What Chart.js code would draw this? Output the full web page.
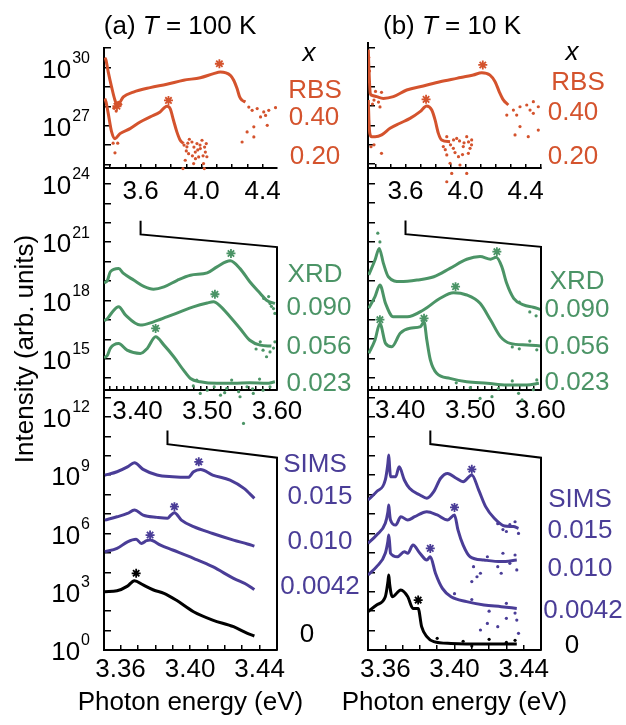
<!DOCTYPE html>
<html>
<head>
<meta charset="utf-8">
<script src="https://cdn.jsdelivr.net/npm/chart.js@4.4.1/dist/chart.umd.min.js"></script>
<style>
  html, body { margin: 0; padding: 0; background: #fff; }
  #wrap { position: relative; width: 626px; height: 725px; }
  #wrap canvas { position: absolute; left: 0; top: 0; }
</style>
</head>
<body>
<div id="wrap">
  <canvas id="cA" width="626" height="725"></canvas>
  <canvas id="cB" width="626" height="725"></canvas>
</div>
<script>
// punten: [foton-energie (eV), log10 intensiteit]

// (a) T = 100 K
const rbs100_040 = [[3.365,30.5],[3.373,30.37],[3.388,29.76],[3.410,28.99],[3.432,28.31],[3.447,28.05],[3.487,28.48],[3.553,28.73],[3.663,28.96],[3.772,29.13],[3.882,29.34],[3.992,29.47],[4.079,29.68],[4.123,29.76],[4.189,29.59],[4.211,29.34],[4.233,28.91],[4.250,28.48],[4.266,28.31],[4.288,28.22]];
const rbs100_040_dots = [[4.310,27.96],[4.332,27.79],[4.365,27.88],[4.408,27.71],[4.441,27.79],[4.485,27.93],[4.420,27.53],[4.431,27.02],[4.387,27.45],[4.343,26.94],[4.299,26.68],[4.266,26.16],[4.343,26.42],[3.44,27.75],[3.455,28.2],[3.425,27.9],[3.47,28.1]];
const rbs100_020 = [[3.365,28.4],[3.373,28.22],[3.388,27.62],[3.410,26.68],[3.432,26.33],[3.465,26.59],[3.531,26.85],[3.597,27.19],[3.663,27.45],[3.728,27.71],[3.772,28.0],[3.794,27.88],[3.816,27.28],[3.838,26.68],[3.860,26.25],[3.882,26.08]];
const rbs100_020_dots = [[3.904,25.91],[3.937,26.16],[3.970,26.08],[4.003,26.25],[4.031,26.08],[3.915,25.56],[3.959,25.64],[3.992,25.82],[4.025,25.64],[3.893,25.22],[3.981,25.39],[4.013,25.05],[3.878,24.79],[3.948,25.05],[4.018,24.79],[3.92,26.3],[3.95,25.9],[3.99,26.0],[4.02,25.9],[3.90,25.7],[3.96,25.3],[4.035,25.4],[3.885,26.0],[3.432,25.6],[3.42,26.1],[3.45,26.1],[3.91,26.1],[3.975,25.75],[4.01,25.45],[3.94,25.45]];
const rbs100_stars = [[4.117,30.19],[3.783,28.3],[3.445,28.0]];

const xrd100_090 = [[3.352,18.9],[3.357,19.04],[3.361,19.47],[3.373,19.64],[3.380,19.39],[3.395,19.04],[3.409,18.73],[3.423,18.58],[3.438,18.70],[3.457,19.04],[3.476,19.30],[3.500,19.42],[3.514,19.73],[3.533,20.04],[3.547,19.64],[3.561,18.96],[3.576,18.36],[3.585,18.01],[3.597,17.84]];
const xrd100_090_dots = [[3.581,18.10],[3.590,17.84],[3.595,17.58],[3.597,17.33],[3.588,18.2],[3.592,17.7]];
const xrd100_056 = [[3.352,16.95],[3.357,17.07],[3.364,17.41],[3.373,17.67],[3.383,17.24],[3.404,16.73],[3.423,16.90],[3.442,17.15],[3.461,17.41],[3.480,17.67],[3.500,17.87],[3.509,17.93],[3.519,17.70],[3.533,17.15],[3.547,16.56],[3.561,15.95],[3.576,15.70],[3.592,15.65]];
const xrd100_056_dots = [[3.580,15.44],[3.590,15.35],[3.585,15.10],[3.576,15.87],[3.597,15.87],[3.570,15.5],[3.595,15.55]];
const xrd100_023 = [[3.352,15.05],[3.357,15.18],[3.361,15.53],[3.373,15.78],[3.385,15.44],[3.404,15.27],[3.414,15.53],[3.426,16.13],[3.438,15.70],[3.452,15.10],[3.466,14.41],[3.476,13.98],[3.490,13.81],[3.514,13.73],[3.538,13.73],[3.561,13.76],[3.585,13.73],[3.597,13.81]];
const xrd100_023_dots = [[3.50,13.38],[3.528,13.47],[3.557,13.55],[3.580,13.38],[3.49,13.21],[3.519,13.12],[3.547,13.04],[3.566,13.21],[3.552,11.67],[3.48,13.6],[3.535,13.9],[3.575,13.95],[3.485,13.9],[3.51,13.55],[3.545,13.3],[3.59,13.55],[3.525,13.25],[3.565,13.45]];
const xrd100_stars = [[3.534,20.42],[3.511,18.32],[3.426,16.56]];

const sims100_015 = [[3.351,9.0],[3.358,9.18],[3.364,9.43],[3.368,9.64],[3.373,9.30],[3.381,9.01],[3.390,8.92],[3.399,8.89],[3.402,9.18],[3.406,9.30],[3.413,9.01],[3.423,8.75],[3.431,8.32],[3.437,7.81]];
const sims100_010 = [[3.351,6.69],[3.358,6.86],[3.364,7.03],[3.368,7.21],[3.373,6.95],[3.381,6.83],[3.387,6.78],[3.389,6.95],[3.391,7.07],[3.395,6.69],[3.402,6.35],[3.413,6.00],[3.425,5.66],[3.433,5.46],[3.437,5.35]];
const sims100_0042 = [[3.351,5.06],[3.358,5.23],[3.364,5.57],[3.369,5.70],[3.372,5.49],[3.375,5.63],[3.377,5.66],[3.383,5.40],[3.390,5.15],[3.402,4.72],[3.413,4.29],[3.425,3.69],[3.433,3.35],[3.437,3.12]];
const sims100_0 = [[3.351,3.00],[3.358,3.05],[3.364,3.29],[3.368,3.57],[3.373,3.35],[3.379,3.09],[3.385,2.92],[3.392,2.57],[3.402,1.97],[3.413,1.54],[3.425,1.20],[3.433,0.86],[3.437,0.72]];
const sims100_stars = [[3.405,9.69],[3.391,7.38],[3.377,5.92]];
const sims100_0_stars = [[3.369,3.95]];

// (b) T = 10 K
const rbs10_040 = [[3.352,30.9],[3.355,30.2],[3.359,29.4],[3.365,28.65],[3.375,28.55],[3.408,28.48],[3.452,28.39],[3.519,28.48],[3.608,28.82],[3.719,29.03],[3.830,29.25],[3.941,29.42],[4.052,29.59],[4.108,29.71],[4.163,29.59],[4.197,29.25],[4.225,28.73],[4.252,28.31],[4.285,28.05]];
const rbs10_040_dots = [[4.319,27.79],[4.363,27.96],[4.408,28.05],[4.452,28.22],[4.485,27.96],[4.430,27.79],[4.341,27.53],[4.275,27.53],[4.363,26.94],[4.330,26.51],[4.418,26.42],[4.485,26.76],[4.452,27.62],[3.38,28.1],[3.40,28.75],[3.42,28.2],[3.44,28.7],[3.36,29.8],[3.355,30.5],[3.39,28.3],[3.43,27.95]];
const rbs10_020 = [[3.352,28.31],[3.356,27.3],[3.362,26.59],[3.375,26.42],[3.397,26.42],[3.441,26.51],[3.497,26.85],[3.563,27.11],[3.630,27.36],[3.697,27.71],[3.741,28.0],[3.775,27.79],[3.797,27.28],[3.819,26.59],[3.841,26.25],[3.897,26.16]];
const rbs10_020_dots = [[3.875,26.42],[3.941,26.33],[4.008,26.42],[4.041,26.25],[3.852,25.91],[3.919,25.82],[3.985,25.91],[4.030,25.82],[3.875,25.48],[3.953,25.39],[4.019,25.56],[3.897,25.05],[3.963,24.96],[3.908,24.53],[4.008,24.53],[3.875,24.10],[3.96,26.2],[3.99,26.1],[3.90,26.0],[4.04,26.0],[3.93,25.6],[3.98,25.5],[3.44,25.56],[3.39,26.0],[3.37,25.9],[3.92,26.25],[4.02,26.15],[3.865,25.75]];
const rbs10_stars = [[4.115,30.11],[3.737,28.34]];

const xrd10_090 = [[3.355,19.30],[3.364,20.07],[3.370,20.67],[3.376,19.90],[3.383,19.21],[3.400,18.96],[3.424,19.04],[3.448,19.21],[3.471,19.64],[3.495,20.11],[3.514,20.25],[3.529,20.11],[3.537,20.21],[3.545,19.73],[3.552,18.87],[3.562,18.10],[3.576,17.76],[3.590,17.64],[3.600,17.53]];
const xrd10_090_dots = [[3.368,21.45],[3.371,21.0],[3.585,17.4],[3.594,17.2],[3.57,17.9]];
const xrd10_056 = [[3.355,17.59],[3.364,18.19],[3.371,18.79],[3.379,17.84],[3.390,17.15],[3.410,17.15],[3.433,17.50],[3.457,18.10],[3.476,18.39],[3.495,18.27],[3.514,17.84],[3.529,16.98],[3.543,16.13],[3.557,15.78],[3.581,15.70],[3.600,15.65]];
const xrd10_056_dots = [[3.57,15.5],[3.585,15.9],[3.595,15.45],[3.56,15.6]];
const xrd10_023 = [[3.355,15.27],[3.364,15.95],[3.371,16.81],[3.379,15.78],[3.388,15.61],[3.400,16.30],[3.414,16.56],[3.429,16.64],[3.434,16.90],[3.438,15.95],[3.443,14.93],[3.452,14.24],[3.471,13.98],[3.495,13.81],[3.524,13.73],[3.552,13.64],[3.581,13.64],[3.598,13.73]];
const xrd10_023_dots = [[3.514,12.95],[3.531,13.04],[3.569,13.21],[3.574,12.87],[3.50,13.5],[3.54,13.45],[3.59,13.4],[3.48,13.75],[3.56,13.85],[3.595,13.9]];
const xrd10_stars = [[3.538,20.5],[3.479,18.7],[3.434,17.07],[3.371,17.0]];

const sims10_015 = [[3.350,7.72],[3.355,8.15],[3.360,8.75],[3.3615,9.6],[3.362,10.04],[3.3625,9.4],[3.363,8.92],[3.366,8.92],[3.368,9.43],[3.371,8.75],[3.374,8.32],[3.380,7.98],[3.384,7.81],[3.388,8.15],[3.392,8.84],[3.396,9.09],[3.401,8.84],[3.405,8.66],[3.410,9.01],[3.414,8.23],[3.418,7.38],[3.423,6.78],[3.429,6.38],[3.434,6.35],[3.437,6.26]];
const sims10_015_dots = [[3.425,6.5],[3.43,6.1],[3.435,6.6],[3.437,6.0],[3.428,6.2],[3.432,6.45]];
const sims10_010 = [[3.350,5.49],[3.355,5.92],[3.360,6.52],[3.3615,7.1],[3.362,7.46],[3.3625,7.0],[3.363,6.69],[3.366,6.43],[3.369,6.86],[3.373,6.69],[3.377,6.86],[3.384,7.12],[3.390,6.95],[3.396,6.69],[3.400,6.95],[3.402,6.18],[3.405,5.40],[3.409,4.80],[3.417,4.63],[3.427,4.55],[3.436,4.63]];
const sims10_010_dots = [[3.411,4.29],[3.415,3.95],[3.419,4.80],[3.425,4.29],[3.428,4.98],[3.432,4.46],[3.436,4.12],[3.410,3.52],[3.413,3.77],[3.427,3.95],[3.435,4.89]];
const sims10_0042 = [[3.350,3.86],[3.355,4.29],[3.360,4.98],[3.3615,5.6],[3.362,5.92],[3.3625,5.5],[3.363,4.98],[3.367,4.80],[3.371,5.06],[3.373,4.98],[3.376,5.40],[3.380,4.98],[3.384,4.63],[3.386,4.80],[3.389,3.95],[3.393,3.17],[3.398,2.74],[3.407,2.49],[3.417,2.32],[3.427,2.23],[3.436,2.14]];
const sims10_0042_dots = [[3.415,1.03],[3.419,1.37],[3.425,1.20],[3.430,1.63],[3.437,0.86],[3.436,1.54],[3.41,2.6],[3.42,2.0],[3.43,2.4],[3.40,2.9],[3.435,1.9]];
const sims10_0 = [[3.350,1.97],[3.355,2.32],[3.360,2.74],[3.3615,3.5],[3.362,3.86],[3.3625,3.4],[3.364,2.74],[3.369,3.09],[3.373,2.74],[3.376,2.14],[3.379,2.14],[3.381,1.20],[3.384,0.69],[3.388,0.43],[3.398,0.34],[3.417,0.31],[3.436,0.31]];
const sims10_0_dots = [[3.39,0.6],[3.405,0.45],[3.42,0.55],[3.43,0.4],[3.41,0.2],[3.435,0.5]];
const sims10_stars = [[3.410,9.30],[3.400,7.34],[3.386,5.23]];
const sims10_0_stars = [[3.379,2.57]];

// tick labels
const topTickLabels = [3.6, 4.0, 4.4];
const midTickLabels = [3.40, 3.50, 3.60];
const botTickLabels = [3.36, 3.40, 3.44];
const yExponents = [0, 3, 6, 9, 12, 15, 18, 21, 24, 27, 30];

const ORANJE = '#d4532d';
const GROEN = '#4b9466';
const PAARS = '#4a3d97';
const ZWART = '#000000';
const FONT = '"Liberation Sans", Arial, Helvetica, sans-serif';
const FS = 26;

function naarXY(punten) {
    return punten.map(p => ({ x: p[0], y: Math.pow(10, p[1]) }));
}

function lijn(punten, kleur, as) {
    return {
        data: naarXY(punten), xAxisID: as, yAxisID: 'y',
        showLine: true, borderColor: kleur, borderWidth: 3,
        pointRadius: 0, cubicInterpolationMode: 'monotone', fill: false
    };
}

function stippen(punten, kleur, as) {
    return {
        data: naarXY(punten), xAxisID: as, yAxisID: 'y',
        showLine: false, pointRadius: 1.6, pointBorderWidth: 0,
        pointBackgroundColor: kleur, backgroundColor: kleur
    };
}

function sterren(punten, kleur, as) {
    return {
        data: naarXY(punten), xAxisID: as, yAxisID: 'y',
        showLine: false, pointStyle: 'star', pointRadius: 4.5,
        pointBorderColor: kleur, pointBorderWidth: 1.8
    };
}

function labelVan(lijst, decimalen) {
    return function(v) {
        return lijst.some(t => Math.abs(t - v) < 1e-6) ? Number(v).toFixed(decimalen) : '';
    };
}

function xAs(min, max, stap, positie, labels, decimalen, labelPadding) {
    return {
        type: 'linear', axis: 'x', min: min, max: max, position: positie,
        grid: { drawOnChartArea: false, drawTicks: true, tickLength: -5, color: '#000', lineWidth: 1.5 },
        border: { display: true, color: '#000', width: 2 },
        ticks: {
            stepSize: stap, includeBounds: false, autoSkip: false, maxRotation: 0,
            padding: labelPadding, color: '#000', font: { family: FONT, size: FS },
            callback: labelVan(labels, decimalen)
        }
    };
}

// y-as: decade-tikken
function decadeTikken(scale) {
    const lijst = [];
    for (let k = 0; k <= 31; k++) lijst.push({ value: Math.pow(10, k) });
    scale.ticks = lijst;
}

// titels, labels, haken
const versiering = {
    id: 'versiering',
    afterDraw(chart, args, opts) {
        const ctx = chart.ctx;
        const y = chart.scales.y;
        const xt = chart.scales.xTop, xm = chart.scales.xMid, xb = chart.scales.xBot;
        const P = d => y.getPixelForValue(Math.pow(10, d));
        ctx.save();

        // haken tussen de panelen
        ctx.strokeStyle = '#000';
        ctx.lineWidth = 2;
        ctx.beginPath();
        const x0 = xt.getPixelForValue(3.6);
        ctx.moveTo(x0, P(22.1));
        ctx.lineTo(x0, P(21.4));
        ctx.lineTo(xm.right, P(20.75));
        ctx.lineTo(xm.right, P(opts.midAs));
        const x1 = xm.getPixelForValue(3.443);
        ctx.moveTo(x1, P(11.3));
        ctx.lineTo(x1, P(10.6));
        ctx.lineTo(xb.right, P(9.9));
        ctx.lineTo(xb.right, P(0));
        ctx.stroke();

        // titel met cursieve T
        ctx.fillStyle = '#000';
        ctx.textBaseline = 'middle';
        ctx.textAlign = 'left';
        const f1 = FS + 'px ' + FONT, f2 = 'italic ' + FS + 'px ' + FONT;
        ctx.font = f1;
        const w1 = ctx.measureText(opts.titel[0]).width;
        const w3 = ctx.measureText(opts.titel[1]).width;
        ctx.font = f2;
        const w2 = ctx.measureText('T').width;
        let tx = opts.titelX - (w1 + w2 + w3) / 2;
        ctx.font = f1; ctx.fillText(opts.titel[0], tx, 27);
        ctx.font = f2; ctx.fillText('T', tx + w1, 27);
        ctx.font = f1; ctx.fillText(opts.titel[1], tx + w1 + w2, 27);

        // x-as titel (zonder maxWidth)
        ctx.textAlign = 'center';
        ctx.font = f1;
        ctx.fillText('Photon energy (eV)', (xb.left + xb.right) / 2, 703);

        // 10^n labels
        ctx.textAlign = 'left';
        if (opts.yLabels) {
            const rechts = 90;
            yExponents.forEach(k => {
                const py = y.getPixelForValue(Math.pow(10, k));
                const e = String(k);
                ctx.font = '16px ' + FONT;
                const we = ctx.measureText(e).width;
                ctx.fillText(e, rechts - we, py - 9);
                ctx.font = FS + 'px ' + FONT;
                const wb = ctx.measureText('10').width;
                ctx.fillText('10', rechts - we - wb - 1, py + 3);
            });
        }

        // x-waarden rechts
        ctx.textAlign = 'center';
        opts.labels.forEach(l => {
            ctx.font = (l.cursief ? 'italic ' : '') + FS + 'px ' + FONT;
            ctx.fillStyle = l.kleur;
            ctx.fillText(l.t, l.x, l.y);
        });
        ctx.restore();
    }
};

function maakGrafiek(id, cfg) {
    const ds = cfg.datasets;
    return new Chart(document.getElementById(id), {
        type: 'scatter',
        data: { datasets: ds },
        options: {
            responsive: false,
            animation: false,
            layout: { padding: { left: 0, right: 626 - cfg.rechts, top: cfg.boven, bottom: 0 } },
            plugins: {
                legend: { display: false },
                tooltip: { enabled: false },
                versiering: cfg.versiering
            },
            scales: {
                y: {
                    type: 'logarithmic', position: 'left', min: 1, max: cfg.yMax,
                    afterBuildTicks: decadeTikken,
                    afterFit: s => { s.width = cfg.links; },
                    grid: { drawOnChartArea: false, drawTicks: true, tickLength: -7, color: '#000', lineWidth: 1.5 },
                    border: { display: true, color: '#000', width: 2 },
                    ticks: { display: false, autoSkip: false },
                    title: {
                        display: cfg.yTitel, text: 'Intensity (arb. units)', color: '#000',
                        font: { family: FONT, size: FS }, padding: { top: 10, bottom: 0 }
                    }
                },
                xTop: xAs(cfg.top[0], cfg.top[1], 0.1, { y: Math.pow(10, 24.8) }, topTickLabels, 1, 13),
                xMid: xAs(cfg.mid[0], cfg.mid[1], 0.01, { y: Math.pow(10, cfg.versiering.midAs) }, midTickLabels, 2, 11),
                xBot: Object.assign(xAs(cfg.bot[0], cfg.bot[1], 0.01, 'bottom', botTickLabels, 2, 9), {
                    afterFit: s => { s.height = 75; }
                })
            }
        },
        plugins: [versiering]
    });
}

maakGrafiek('cA', {
    links: 104, rechts: 277, boven: 48, yMax: 1e31, yTitel: true,
    top: [3.36, 4.495], mid: [3.352, 3.60], bot: [3.3505, 3.450],
    datasets: [
        lijn(rbs100_040, ORANJE, 'xTop'), lijn(rbs100_020, ORANJE, 'xTop'),
        stippen(rbs100_040_dots, ORANJE, 'xTop'), stippen(rbs100_020_dots, ORANJE, 'xTop'),
        sterren(rbs100_stars, ORANJE, 'xTop'),
        lijn(xrd100_090, GROEN, 'xMid'), lijn(xrd100_056, GROEN, 'xMid'), lijn(xrd100_023, GROEN, 'xMid'),
        stippen(xrd100_090_dots, GROEN, 'xMid'), stippen(xrd100_056_dots, GROEN, 'xMid'), stippen(xrd100_023_dots, GROEN, 'xMid'),
        sterren(xrd100_stars, GROEN, 'xMid'),
        lijn(sims100_015, PAARS, 'xBot'), lijn(sims100_010, PAARS, 'xBot'), lijn(sims100_0042, PAARS, 'xBot'),
        lijn(sims100_0, ZWART, 'xBot'),
        sterren(sims100_stars, PAARS, 'xBot'), sterren(sims100_0_stars, ZWART, 'xBot')
    ],
    versiering: {
        midAs: 13.4, yLabels: true, titel: ['(a) ', ' = 100 K'], titelX: 180,
        labels: [
            { t: 'x', x: 309, y: 54, kleur: ZWART, cursief: true },
            { t: 'RBS', x: 315, y: 91, kleur: ORANJE }, { t: '0.40', x: 314, y: 118, kleur: ORANJE },
            { t: '0.20', x: 315, y: 157, kleur: ORANJE },
            { t: 'XRD', x: 315, y: 275, kleur: GROEN }, { t: '0.090', x: 319, y: 308, kleur: GROEN },
            { t: '0.056', x: 319, y: 347, kleur: GROEN }, { t: '0.023', x: 319, y: 384, kleur: GROEN },
            { t: 'SIMS', x: 315, y: 465, kleur: PAARS }, { t: '0.015', x: 320, y: 497, kleur: PAARS },
            { t: '0.010', x: 320, y: 542, kleur: PAARS }, { t: '0.0042', x: 320, y: 587, kleur: PAARS },
            { t: '0', x: 307, y: 635, kleur: ZWART }
        ]
    }
});

maakGrafiek('cB', {
    links: 368, rechts: 541, boven: 43, yMax: Math.pow(10, 31.24), yTitel: false,
    top: [3.35, 4.503], mid: [3.354, 3.601], bot: [3.350, 3.450],
    datasets: [
        lijn(rbs10_040, ORANJE, 'xTop'), lijn(rbs10_020, ORANJE, 'xTop'),
        stippen(rbs10_040_dots, ORANJE, 'xTop'), stippen(rbs10_020_dots, ORANJE, 'xTop'),
        sterren(rbs10_stars, ORANJE, 'xTop'),
        lijn(xrd10_090, GROEN, 'xMid'), lijn(xrd10_056, GROEN, 'xMid'), lijn(xrd10_023, GROEN, 'xMid'),
        stippen(xrd10_090_dots, GROEN, 'xMid'), stippen(xrd10_056_dots, GROEN, 'xMid'), stippen(xrd10_023_dots, GROEN, 'xMid'),
        sterren(xrd10_stars, GROEN, 'xMid'),
        lijn(sims10_015, PAARS, 'xBot'), lijn(sims10_010, PAARS, 'xBot'), lijn(sims10_0042, PAARS, 'xBot'),
        lijn(sims10_0, ZWART, 'xBot'),
        stippen(sims10_015_dots, PAARS, 'xBot'), stippen(sims10_010_dots, PAARS, 'xBot'),
        stippen(sims10_0042_dots, PAARS, 'xBot'), stippen(sims10_0_dots, ZWART, 'xBot'),
        sterren(sims10_stars, PAARS, 'xBot'), sterren(sims10_0_stars, ZWART, 'xBot')
    ],
    versiering: {
        midAs: 13.4, yLabels: false, titel: ['(b) ', ' = 10 K'], titelX: 452,
        labels: [
            { t: 'x', x: 572, y: 53, kleur: ZWART, cursief: true },
            { t: 'RBS', x: 578, y: 83, kleur: ORANJE }, { t: '0.40', x: 573, y: 113, kleur: ORANJE },
            { t: '0.20', x: 573, y: 157, kleur: ORANJE },
            { t: 'XRD', x: 577, y: 282, kleur: GROEN }, { t: '0.090', x: 577, y: 310, kleur: GROEN },
            { t: '0.056', x: 577, y: 347, kleur: GROEN }, { t: '0.023', x: 577, y: 383, kleur: GROEN },
            { t: 'SIMS', x: 580, y: 500, kleur: PAARS }, { t: '0.015', x: 580, y: 531, kleur: PAARS },
            { t: '0.010', x: 580, y: 569, kleur: PAARS }, { t: '0.0042', x: 583, y: 611, kleur: PAARS },
            { t: '0', x: 572, y: 646, kleur: ZWART }
        ]
    }
});
</script>
</body>
</html>
